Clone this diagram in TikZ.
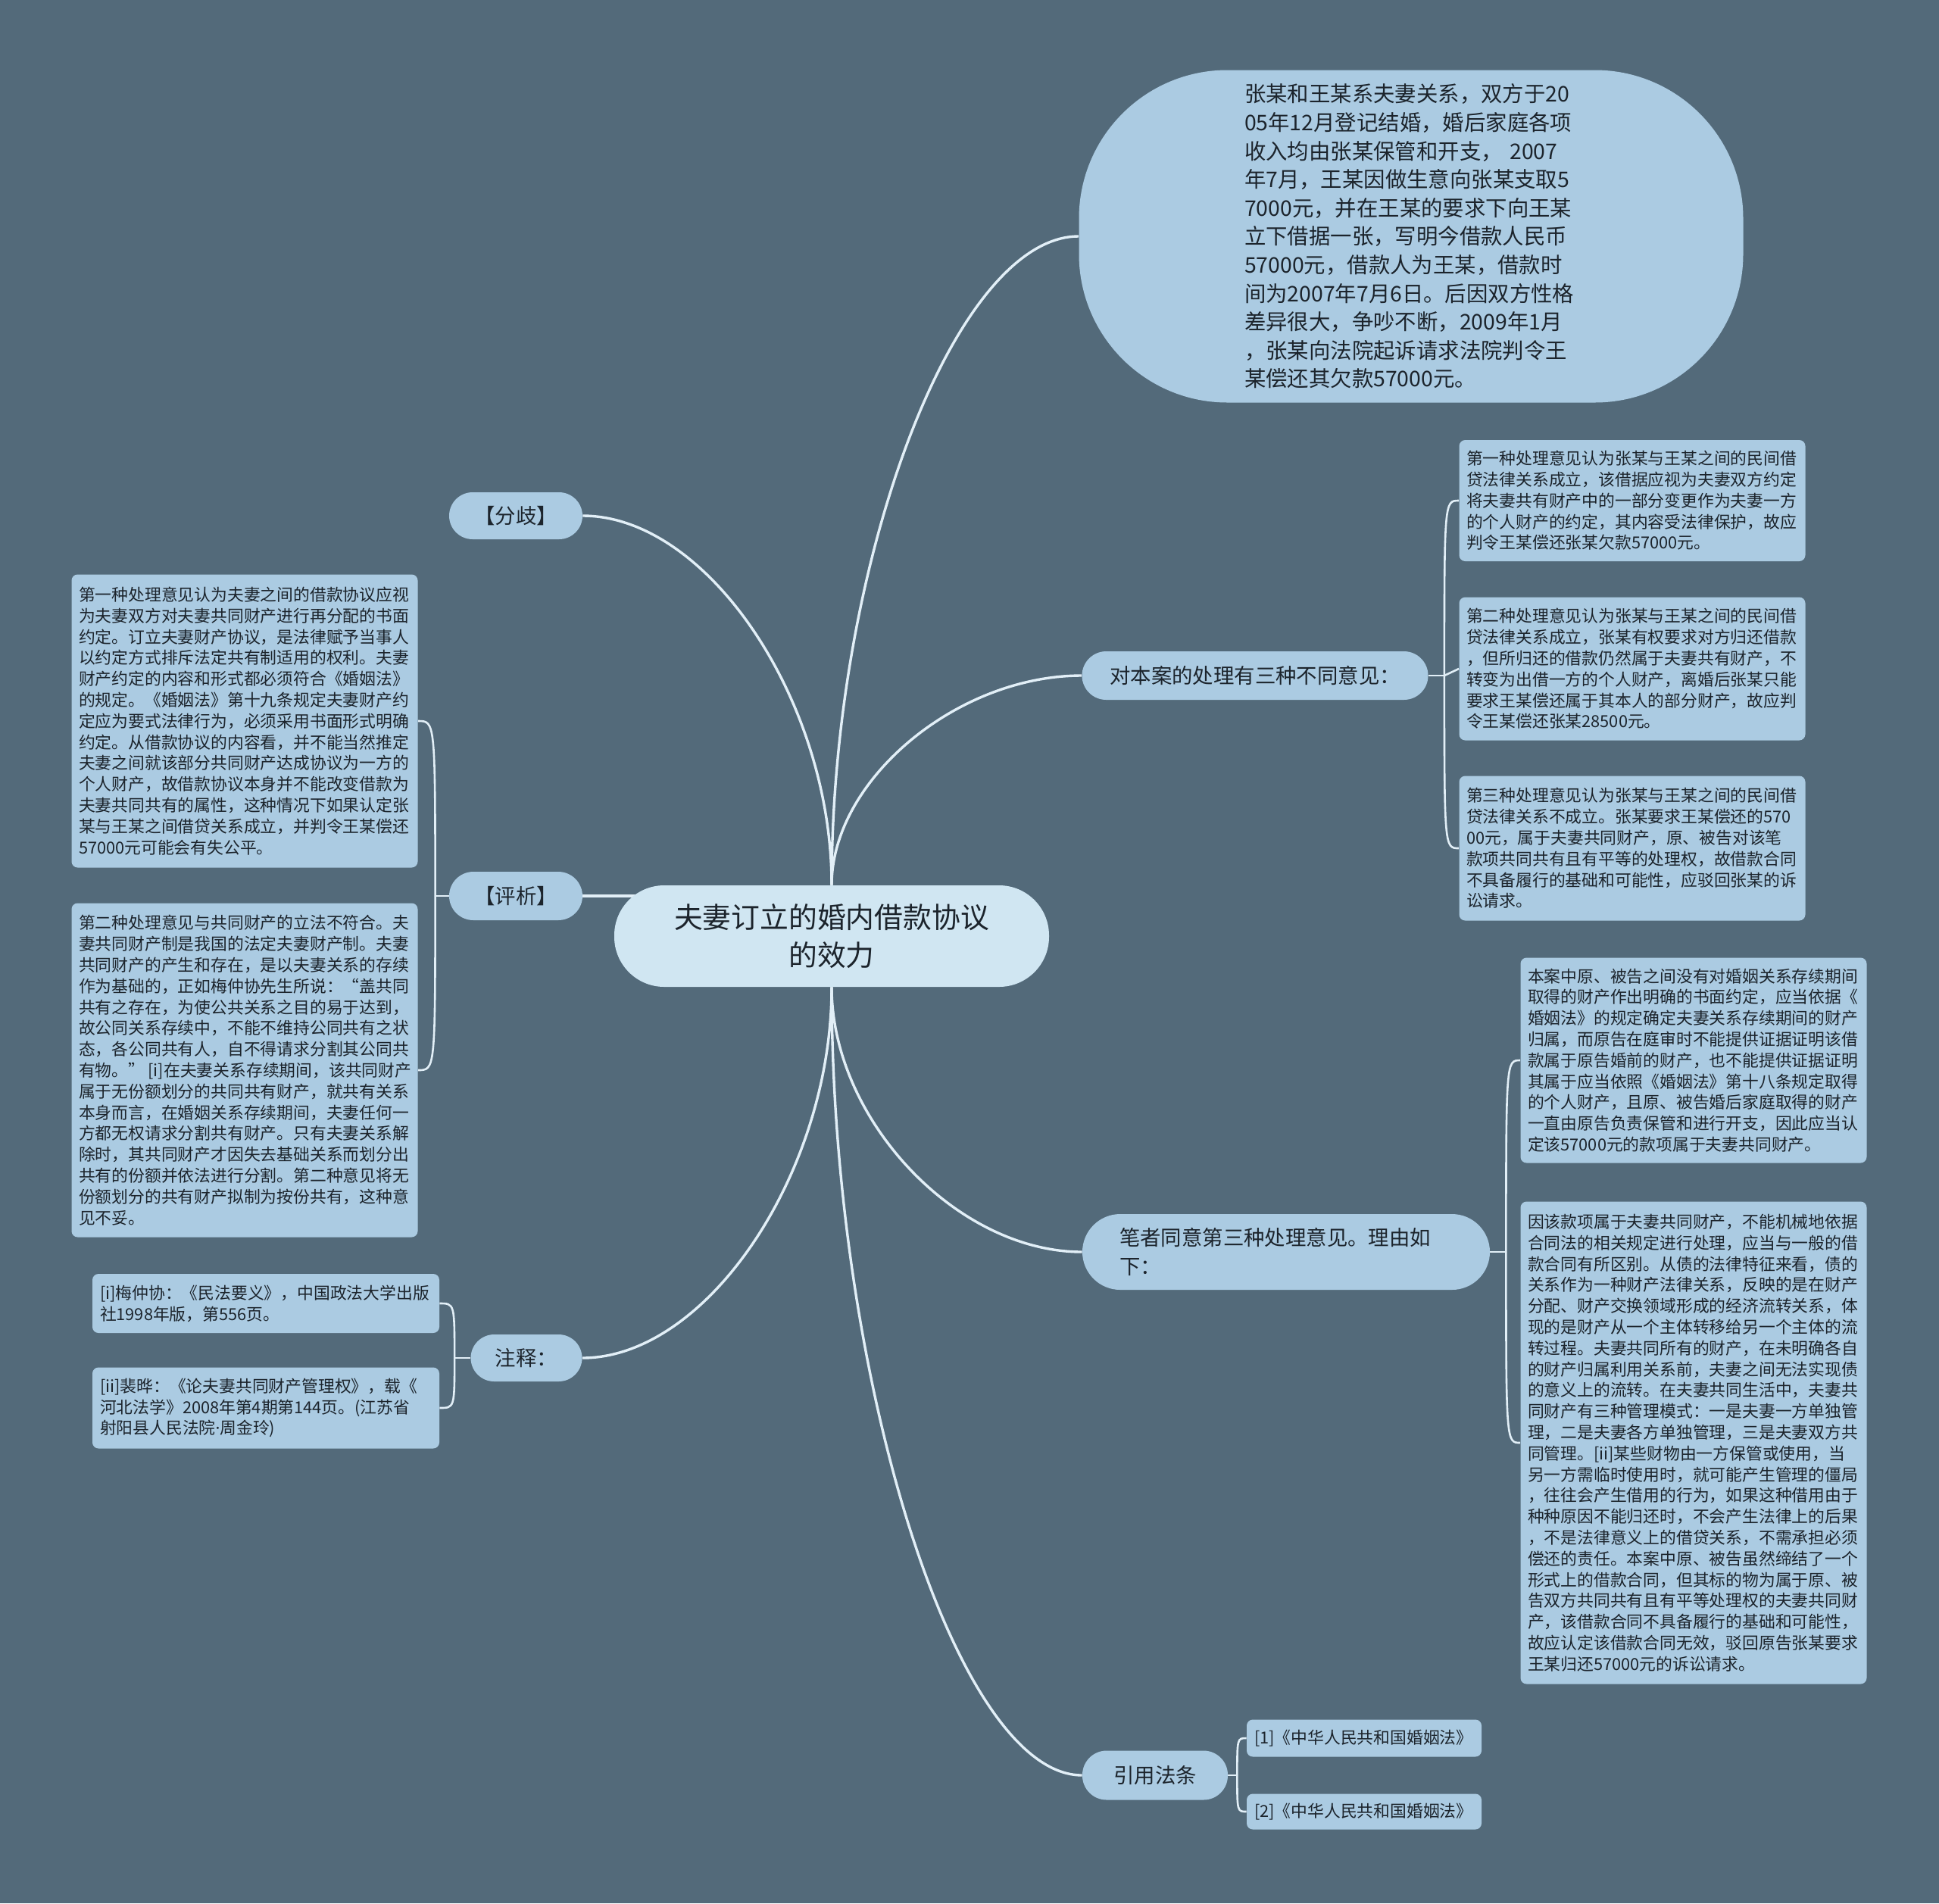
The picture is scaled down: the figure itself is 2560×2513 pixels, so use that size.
\documentclass[tikz,border=0pt]{standalone}
\usepackage{fontspec}
\setmainfont{Noto Sans CJK SC}
\newfontfamily\latinfont{Noto Sans}
\usetikzlibrary{calc}
\definecolor{bgc}{RGB}{83,106,122}
\definecolor{rootfill}{RGB}{208,230,242}
\definecolor{brfill}{RGB}{171,203,226}
\definecolor{linec}{RGB}{226,239,247}
\definecolor{txt}{RGB}{28,36,44}
\pgfdeclarelayer{bglayer}
\pgfdeclarelayer{lines}
\pgfsetlayers{bglayer,lines,main}
\tikzset{
  base/.style={text=txt, inner sep=0pt, align=center},
  rootnode/.style={base, fill=rootfill, font=\fontsize{18.9pt}{25.3pt}\selectfont},
  branchnode/.style={base, fill=brfill, font=\fontsize{13.7pt}{18.8pt}\selectfont},
  leafnode/.style={base, fill=brfill, rounded corners=4pt, align=left, text width=219pt,
    minimum width=228.5pt, font=\fontsize{10.9pt}{13.9pt}\selectfont},
  conn/.style={draw=linec, line width=1.7pt},
  subconn/.style={draw=linec, line width=1.3pt},
  mcurve/.style={to path={.. controls ($(\tikztostart)!0.5!(\tikztostart |- \tikztotarget)$) and ($(\tikztotarget)!0.5!(\tikztostart |- \tikztotarget)$) .. (\tikztotarget)}}
}
\begin{document}
\begin{tikzpicture}[x=0.5pt,y=-0.5pt]
\begin{pgfonlayer}{bglayer}
\fill[bgc] (0,0) rectangle (2560,2513);
\end{pgfonlayer}
\useasboundingbox (0,0) rectangle (2560,2513);

% root
\node[rootnode, minimum width=287pt, minimum height=67pt, rounded corners=33pt] (c) at (1098,1236)
  {夫妻订立的婚内借款协议\\的效力};

% story node
\node[branchnode, minimum width=438.5pt, minimum height=219.5pt, rounded corners=98pt,
  align=left, text width=220pt, font=\fontsize{14.2pt}{18.8pt}\selectfont] (zh) at (1863,312)
  {张某和王某系夫妻关系，双方于20\\
05年12月登记结婚，婚后家庭各项\\
收入均由张某保管和开支，\nobreak\ 2007\\
年7月，王某因做生意向张某支取5\\
7000元，并在王某的要求下向王某\\
立下借据一张，写明今借款人民币\\
57000元，借款人为王某，借款时\\
间为2007年7月6日。后因双方性格\\
差异很大，争吵不断，2009年1月\\
，张某向法院起诉请求法院判令王\\
某偿还其欠款57000元。};

% three opinions
\node[branchnode, minimum width=228.5pt, minimum height=32pt, rounded corners=16pt] (dui) at (1657,892)
  {对本案的处理有三种不同意见：};
\node[leafnode, minimum height=80pt] (b1) at (2155,661)
  {第一种处理意见认为张某与王某之间的民间借\\
贷法律关系成立，该借据应视为夫妻双方约定\\
将夫妻共有财产中的一部分变更作为夫妻一方\\
的个人财产的约定，其内容受法律保护，故应\\
判令王某偿还张某欠款57000元。};
\node[leafnode, minimum height=94.5pt] (b2) at (2155,883)
  {第二种处理意见认为张某与王某之间的民间借\\
贷法律关系成立，张某有权要求对方归还借款\\
，但所归还的借款仍然属于夫妻共有财产，不\\
转变为出借一方的个人财产，离婚后张某只能\\
要求王某偿还属于其本人的部分财产，故应判\\
令王某偿还张某28500元。};
\node[leafnode, minimum height=95.5pt] (b3) at (2155,1120)
  {第三种处理意见认为张某与王某之间的民间借\\
贷法律关系不成立。张某要求王某偿还的570\\
00元，属于夫妻共同财产，原、被告对该笔\\
款项共同共有且有平等的处理权，故借款合同\\
不具备履行的基础和可能性，应驳回张某的诉\\
讼请求。};

% author's view
\node[branchnode, minimum width=269pt, minimum height=50pt, rounded corners=25pt,
  align=left, text width=220pt] (bz) at (1698,1653)
  {笔者同意第三种处理意见。理由如\\下：};
\node[leafnode, minimum height=135.5pt] (r1) at (2236,1400)
  {本案中原、被告之间没有对婚姻关系存续期间\\
取得的财产作出明确的书面约定，应当依据《\\
婚姻法》的规定确定夫妻关系存续期间的财产\\
归属，而原告在庭审时不能提供证据证明该借\\
款属于原告婚前的财产，也不能提供证据证明\\
其属于应当依照《婚姻法》第十八条规定取得\\
的个人财产，且原、被告婚后家庭取得的财产\\
一直由原告负责保管和进行开支，因此应当认\\
定该57000元的款项属于夫妻共同财产。};
\node[leafnode, minimum height=318.5pt] (r2) at (2236,1905)
  {因该款项属于夫妻共同财产，不能机械地依据\\
合同法的相关规定进行处理，应当与一般的借\\
款合同有所区别。从债的法律特征来看，债的\\
关系作为一种财产法律关系，反映的是在财产\\
分配、财产交换领域形成的经济流转关系，体\\
现的是财产从一个主体转移给另一个主体的流\\
转过程。夫妻共同所有的财产，在未明确各自\\
的财产归属利用关系前，夫妻之间无法实现债\\
的意义上的流转。在夫妻共同生活中，夫妻共\\
同财产有三种管理模式：一是夫妻一方单独管\\
理，二是夫妻各方单独管理，三是夫妻双方共\\
同管理。[ii]某些财物由一方保管或使用，当\\
另一方需临时使用时，就可能产生管理的僵局\\
，往往会产生借用的行为，如果这种借用由于\\
种种原因不能归还时，不会产生法律上的后果\\
，不是法律意义上的借贷关系，不需承担必须\\
偿还的责任。本案中原、被告虽然缔结了一个\\
形式上的借款合同，但其标的物为属于原、被\\
告双方共同共有且有平等处理权的夫妻共同财\\
产，该借款合同不具备履行的基础和可能性，\\
故应认定该借款合同无效，驳回原告张某要求\\
王某归还57000元的诉讼请求。};

% cited law
\node[branchnode, minimum width=96pt, minimum height=32.5pt, rounded corners=16pt] (yy) at (1525,2344)
  {引用法条};
\node[leafnode, text width=145pt, minimum width=155pt, minimum height=24.5pt] (y1) at (1801,2295)
  {[1]《中华人民共和国婚姻法》};
\node[leafnode, text width=145pt, minimum width=155pt, minimum height=23.5pt] (y2) at (1801,2392)
  {[2]《中华人民共和国婚姻法》};

% left side
\node[branchnode, minimum width=88pt, minimum height=31pt, rounded corners=15.5pt] (fq) at (681,681)
  {【分歧】};
\node[branchnode, minimum width=88pt, minimum height=32pt, rounded corners=16pt] (pj) at (681,1183)
  {【评析】};
\node[leafnode, minimum height=193.5pt] (p1) at (323,952)
  {第一种处理意见认为夫妻之间的借款协议应视\\
为夫妻双方对夫妻共同财产进行再分配的书面\\
约定。订立夫妻财产协议，是法律赋予当事人\\
以约定方式排斥法定共有制适用的权利。夫妻\\
财产约定的内容和形式都必须符合《婚姻法》\\
的规定。《婚姻法》第十九条规定夫妻财产约\\
定应为要式法律行为，必须采用书面形式明确\\
约定。从借款协议的内容看，并不能当然推定\\
夫妻之间就该部分共同财产达成协议为一方的\\
个人财产，故借款协议本身并不能改变借款为\\
夫妻共同共有的属性，这种情况下如果认定张\\
某与王某之间借贷关系成立，并判令王某偿还\\
57000元可能会有失公平。};
\node[leafnode, minimum height=220.5pt] (p2) at (323,1413)
  {第二种处理意见与共同财产的立法不符合。夫\\
妻共同财产制是我国的法定夫妻财产制。夫妻\\
共同财产的产生和存在，是以夫妻关系的存续\\
作为基础的，正如梅仲协先生所说：“盖共同\\
共有之存在，为使公共关系之目的易于达到，\\
故公同关系存续中，不能不维持公同共有之状\\
态，各公同共有人，自不得请求分割其公同共\\
有物。”\nobreak\hspace{0.2em}[i]在夫妻关系存续期间，该共同财产\\
属于无份额划分的共同共有财产，就共有关系\\
本身而言，在婚姻关系存续期间，夫妻任何一\\
方都无权请求分割共有财产。只有夫妻关系解\\
除时，其共同财产才因失去基础关系而划分出\\
共有的份额并依法进行分割。第二种意见将无\\
份额划分的共有财产拟制为按份共有，这种意\\
见不妥。};
\node[branchnode, minimum width=73.5pt, minimum height=31pt, rounded corners=15.5pt] (zs) at (695,1793)
  {注释：};
\node[leafnode, minimum width=229pt, minimum height=39pt] (n1) at (351,1721)
  {[i]梅仲协：《民法要义》，中国政法大学出版\\
社1998年版，第556页。};
\node[leafnode, minimum width=229pt, minimum height=53.5pt] (n2) at (351,1859)
  {[ii]裴晔：《论夫妻共同财产管理权》，载《\\
河北法学》2008年第4期第144页。(江苏省\\
射阳县人民法院{\latinfont ·}周金玲)};

% junction points
\coordinate (jd) at ($(dui.east)+(21,0)$);
\coordinate (jb) at ($(bz.east)+(21,0)$);
\coordinate (jy) at ($(yy.east)+(12,0)$);
\coordinate (jp) at ($(pj.west)+(-18,0)$);
\coordinate (jz) at ($(zs.west)+(-21,0)$);

\begin{pgfonlayer}{lines}
% main branches
\draw[conn] (c.north) to[mcurve] (zh.west);
\draw[conn] (c.north) to[mcurve] (fq.east);
\draw[conn] (c.north) to[mcurve] (dui.west);
\draw[conn] (pj.east) -- (pj.east -| c.center);
\draw[conn] (c.south) to[mcurve] (zs.east);
\draw[conn] (c.south) to[mcurve] (bz.west);
\draw[conn] (c.south) to[mcurve] (yy.west);
% sub branches
\draw[subconn] (dui.east) -- (jd);
\draw[subconn] (jd) .. controls (jd |- b1.west) .. (b1.west);
\draw[subconn] (jd) -- (b2.west);
\draw[subconn] (jd) .. controls (jd |- b3.west) .. (b3.west);
\draw[subconn] (bz.east) -- (jb);
\draw[subconn] (jb) .. controls (jb |- r1.west) .. (r1.west);
\draw[subconn] (jb) .. controls (jb |- r2.west) .. (r2.west);
\draw[subconn] (yy.east) -- (jy);
\draw[subconn] (jy) .. controls (jy |- y1.west) .. (y1.west);
\draw[subconn] (jy) .. controls (jy |- y2.west) .. (y2.west);
\draw[subconn] (pj.west) -- (jp);
\draw[subconn] (jp) .. controls (jp |- p1.east) .. (p1.east);
\draw[subconn] (jp) .. controls (jp |- p2.east) .. (p2.east);
\draw[subconn] (zs.west) -- (jz);
\draw[subconn] (jz) .. controls (jz |- n1.east) .. (n1.east);
\draw[subconn] (jz) .. controls (jz |- n2.east) .. (n2.east);
\end{pgfonlayer}
\end{tikzpicture}
\end{document}
